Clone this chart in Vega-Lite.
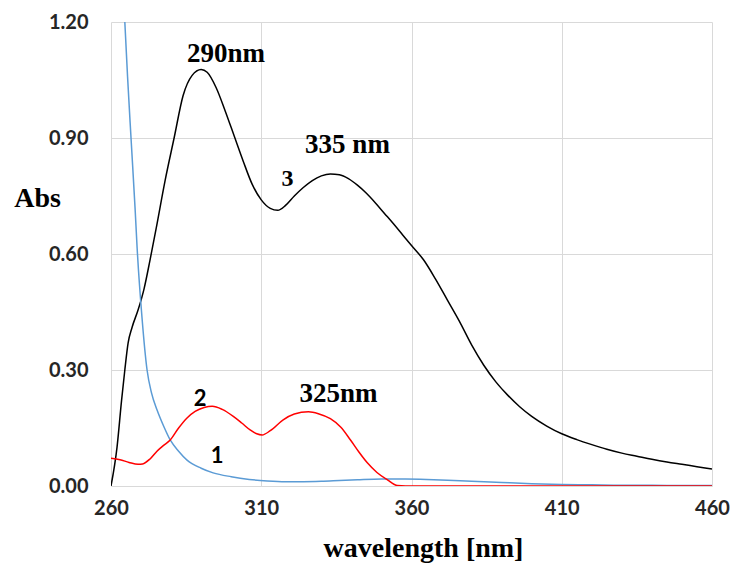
{
  "$schema": "https://vega.github.io/schema/vega-lite/v6.json",
  "autosize": "none",
  "width": 601,
  "height": 464,
  "padding": {"left": 111, "top": 22, "right": 21, "bottom": 79},
  "background": "white",
  "config": {"view": {"stroke": null}},
  "datasets": {
    "curves": [
      {"wl": 260, "abs": 0, "s": "3"},
      {"wl": 262, "abs": 0.1, "s": "3"},
      {"wl": 263.5, "abs": 0.22, "s": "3"},
      {"wl": 264.6, "abs": 0.3, "s": "3"},
      {"wl": 265.7, "abs": 0.37, "s": "3"},
      {"wl": 267, "abs": 0.41, "s": "3"},
      {"wl": 269, "abs": 0.455, "s": "3"},
      {"wl": 271, "abs": 0.51, "s": "3"},
      {"wl": 273, "abs": 0.585, "s": "3"},
      {"wl": 275, "abs": 0.665, "s": "3"},
      {"wl": 278, "abs": 0.79, "s": "3"},
      {"wl": 281, "abs": 0.9, "s": "3"},
      {"wl": 284, "abs": 1.01, "s": "3"},
      {"wl": 287, "abs": 1.062, "s": "3"},
      {"wl": 290, "abs": 1.077, "s": "3"},
      {"wl": 292, "abs": 1.07, "s": "3"},
      {"wl": 295, "abs": 1.03, "s": "3"},
      {"wl": 298, "abs": 0.97, "s": "3"},
      {"wl": 301, "abs": 0.905, "s": "3"},
      {"wl": 304, "abs": 0.84, "s": "3"},
      {"wl": 307, "abs": 0.78, "s": "3"},
      {"wl": 310, "abs": 0.74, "s": "3"},
      {"wl": 313, "abs": 0.718, "s": "3"},
      {"wl": 315.5, "abs": 0.713, "s": "3"},
      {"wl": 318, "abs": 0.725, "s": "3"},
      {"wl": 321, "abs": 0.75, "s": "3"},
      {"wl": 324, "abs": 0.772, "s": "3"},
      {"wl": 327, "abs": 0.79, "s": "3"},
      {"wl": 330, "abs": 0.802, "s": "3"},
      {"wl": 333, "abs": 0.807, "s": "3"},
      {"wl": 336, "abs": 0.805, "s": "3"},
      {"wl": 339, "abs": 0.795, "s": "3"},
      {"wl": 342, "abs": 0.778, "s": "3"},
      {"wl": 345, "abs": 0.757, "s": "3"},
      {"wl": 348, "abs": 0.732, "s": "3"},
      {"wl": 351, "abs": 0.705, "s": "3"},
      {"wl": 354, "abs": 0.678, "s": "3"},
      {"wl": 357, "abs": 0.65, "s": "3"},
      {"wl": 360, "abs": 0.622, "s": "3"},
      {"wl": 364, "abs": 0.585, "s": "3"},
      {"wl": 368, "abs": 0.535, "s": "3"},
      {"wl": 372, "abs": 0.48, "s": "3"},
      {"wl": 376, "abs": 0.425, "s": "3"},
      {"wl": 380, "abs": 0.365, "s": "3"},
      {"wl": 384, "abs": 0.313, "s": "3"},
      {"wl": 388, "abs": 0.27, "s": "3"},
      {"wl": 392, "abs": 0.235, "s": "3"},
      {"wl": 396, "abs": 0.205, "s": "3"},
      {"wl": 400, "abs": 0.18, "s": "3"},
      {"wl": 405, "abs": 0.155, "s": "3"},
      {"wl": 410, "abs": 0.135, "s": "3"},
      {"wl": 415, "abs": 0.12, "s": "3"},
      {"wl": 420, "abs": 0.107, "s": "3"},
      {"wl": 425, "abs": 0.095, "s": "3"},
      {"wl": 430, "abs": 0.085, "s": "3"},
      {"wl": 435, "abs": 0.077, "s": "3"},
      {"wl": 440, "abs": 0.069, "s": "3"},
      {"wl": 445, "abs": 0.062, "s": "3"},
      {"wl": 450, "abs": 0.056, "s": "3"},
      {"wl": 455, "abs": 0.05, "s": "3"},
      {"wl": 460, "abs": 0.044, "s": "3"},

      {"wl": 264.6, "abs": 1.2, "s": "1"},
      {"wl": 265.5, "abs": 1.06, "s": "1"},
      {"wl": 266.7, "abs": 0.895, "s": "1"},
      {"wl": 268, "abs": 0.72, "s": "1"},
      {"wl": 268.7, "abs": 0.615, "s": "1"},
      {"wl": 270.3, "abs": 0.437, "s": "1"},
      {"wl": 272, "abs": 0.3, "s": "1"},
      {"wl": 273.5, "abs": 0.24, "s": "1"},
      {"wl": 275.3, "abs": 0.197, "s": "1"},
      {"wl": 277.5, "abs": 0.155, "s": "1"},
      {"wl": 279.7, "abs": 0.119, "s": "1"},
      {"wl": 282.5, "abs": 0.09, "s": "1"},
      {"wl": 285.3, "abs": 0.067, "s": "1"},
      {"wl": 290, "abs": 0.046, "s": "1"},
      {"wl": 294, "abs": 0.034, "s": "1"},
      {"wl": 300, "abs": 0.024, "s": "1"},
      {"wl": 306, "abs": 0.017, "s": "1"},
      {"wl": 312, "abs": 0.013, "s": "1"},
      {"wl": 318, "abs": 0.011, "s": "1"},
      {"wl": 324, "abs": 0.011, "s": "1"},
      {"wl": 330, "abs": 0.012, "s": "1"},
      {"wl": 336, "abs": 0.014, "s": "1"},
      {"wl": 342, "abs": 0.016, "s": "1"},
      {"wl": 350, "abs": 0.018, "s": "1"},
      {"wl": 358, "abs": 0.018, "s": "1"},
      {"wl": 365, "abs": 0.017, "s": "1"},
      {"wl": 372, "abs": 0.015, "s": "1"},
      {"wl": 380, "abs": 0.012, "s": "1"},
      {"wl": 390, "abs": 0.009, "s": "1"},
      {"wl": 400, "abs": 0.006, "s": "1"},
      {"wl": 410, "abs": 0.004, "s": "1"},
      {"wl": 420, "abs": 0.003, "s": "1"},
      {"wl": 430, "abs": 0.002, "s": "1"},
      {"wl": 440, "abs": 0.002, "s": "1"},
      {"wl": 450, "abs": 0.001, "s": "1"},
      {"wl": 460, "abs": 0.001, "s": "1"},

      {"wl": 260, "abs": 0.072, "s": "2"},
      {"wl": 263, "abs": 0.068, "s": "2"},
      {"wl": 266, "abs": 0.061, "s": "2"},
      {"wl": 269, "abs": 0.056, "s": "2"},
      {"wl": 270.5, "abs": 0.057, "s": "2"},
      {"wl": 273, "abs": 0.07, "s": "2"},
      {"wl": 275.3, "abs": 0.09, "s": "2"},
      {"wl": 277.5, "abs": 0.105, "s": "2"},
      {"wl": 279.7, "abs": 0.119, "s": "2"},
      {"wl": 282.5, "abs": 0.15, "s": "2"},
      {"wl": 285.3, "abs": 0.176, "s": "2"},
      {"wl": 288, "abs": 0.193, "s": "2"},
      {"wl": 291, "abs": 0.203, "s": "2"},
      {"wl": 293.7, "abs": 0.206, "s": "2"},
      {"wl": 297, "abs": 0.198, "s": "2"},
      {"wl": 300.7, "abs": 0.18, "s": "2"},
      {"wl": 303.5, "abs": 0.163, "s": "2"},
      {"wl": 306.3, "abs": 0.145, "s": "2"},
      {"wl": 308.5, "abs": 0.135, "s": "2"},
      {"wl": 310.3, "abs": 0.132, "s": "2"},
      {"wl": 313, "abs": 0.143, "s": "2"},
      {"wl": 317.3, "abs": 0.171, "s": "2"},
      {"wl": 321, "abs": 0.186, "s": "2"},
      {"wl": 325.7, "abs": 0.192, "s": "2"},
      {"wl": 329, "abs": 0.187, "s": "2"},
      {"wl": 333, "abs": 0.174, "s": "2"},
      {"wl": 336.5, "abs": 0.152, "s": "2"},
      {"wl": 339.7, "abs": 0.119, "s": "2"},
      {"wl": 342.5, "abs": 0.088, "s": "2"},
      {"wl": 345.3, "abs": 0.06, "s": "2"},
      {"wl": 348.5, "abs": 0.035, "s": "2"},
      {"wl": 352, "abs": 0.016, "s": "2"},
      {"wl": 355.3, "abs": 0.001, "s": "2"},
      {"wl": 358, "abs": 0, "s": "2"},
      {"wl": 380, "abs": 0, "s": "2"},
      {"wl": 420, "abs": 0, "s": "2"},
      {"wl": 460, "abs": 0, "s": "2"}
    ],
    "serifLabels": [
      {"wl": 298.3, "abs": 1.117, "label": "290nm"},
      {"wl": 338.7, "abs": 0.882, "label": "335 nm"},
      {"wl": 335.7, "abs": 0.238, "label": "325nm"}
    ],
    "digitSerif": [
      {"wl": 318.7, "abs": 0.794, "label": "3"}
    ],
    "digitSans": [
      {"wl": 289.7, "abs": 0.225, "label": "2"},
      {"wl": 295.3, "abs": 0.078, "label": "1"}
    ]
  },
  "layer": [
    {
      "data": {"name": "curves"},
      "mark": {"type": "line", "interpolate": "monotone", "strokeWidth": 1.5, "clip": true},
      "encoding": {
        "x": {
          "field": "wl", "type": "quantitative",
          "scale": {"domain": [260, 460], "nice": false, "zero": false},
          "axis": {
            "values": [260, 310, 360, 410, 460],
            "title": "wavelength [nm]",
            "titleFont": "Liberation Serif", "titleFontSize": 28, "titleFontWeight": "bold", "titleColor": "#000000",
            "titleX": 312, "titleAlign": "center",
            "titleY": 62, "titleBaseline": "middle",
            "labelFont": "Lato", "labelFontSize": 20, "labelFontWeight": "bold", "labelColor": "#262626",
            "labelPadding": 12, "labelFlush": false,
            "domain": false, "ticks": false,
            "grid": true, "gridColor": "#d9d9d9", "gridWidth": 1
          }
        },
        "y": {
          "field": "abs", "type": "quantitative",
          "scale": {"domain": [0, 1.2], "nice": false},
          "axis": {
            "values": [0, 0.3, 0.6, 0.9, 1.2],
            "format": ".2f",
            "title": "Abs",
            "titleAngle": 0, "titleX": -74, "titleY": 176, "titleAlign": "center", "titleBaseline": "middle",
            "titleFont": "Liberation Serif", "titleFontSize": 28, "titleFontWeight": "bold", "titleColor": "#000000",
            "labelFont": "Lato", "labelFontSize": 20, "labelFontWeight": "bold", "labelColor": "#262626",
            "labelPadding": 23, "labelFlush": false,
            "domain": false, "ticks": false,
            "grid": true, "gridColor": "#d9d9d9", "gridWidth": 1
          }
        },
        "color": {
          "field": "s", "type": "nominal",
          "scale": {"domain": ["1", "2", "3"], "range": ["#5b9bd5", "#ff0000", "#000000"]},
          "legend": null
        }
      }
    },
    {
      "data": {"name": "serifLabels"},
      "mark": {"type": "text", "font": "Liberation Serif", "fontSize": 27, "fontWeight": "bold", "color": "#000000", "align": "center", "baseline": "middle"},
      "encoding": {
        "x": {"field": "wl", "type": "quantitative"},
        "y": {"field": "abs", "type": "quantitative"},
        "text": {"field": "label"}
      }
    },
    {
      "data": {"name": "digitSerif"},
      "mark": {"type": "text", "font": "Liberation Serif", "fontSize": 24, "fontWeight": "bold", "color": "#000000", "align": "center", "baseline": "middle"},
      "encoding": {
        "x": {"field": "wl", "type": "quantitative"},
        "y": {"field": "abs", "type": "quantitative"},
        "text": {"field": "label"}
      }
    },
    {
      "data": {"name": "digitSans"},
      "mark": {"type": "text", "font": "Lato", "fontSize": 22, "fontWeight": "bold", "color": "#000000", "align": "center", "baseline": "middle"},
      "encoding": {
        "x": {"field": "wl", "type": "quantitative"},
        "y": {"field": "abs", "type": "quantitative"},
        "text": {"field": "label"}
      }
    }
  ]
}
